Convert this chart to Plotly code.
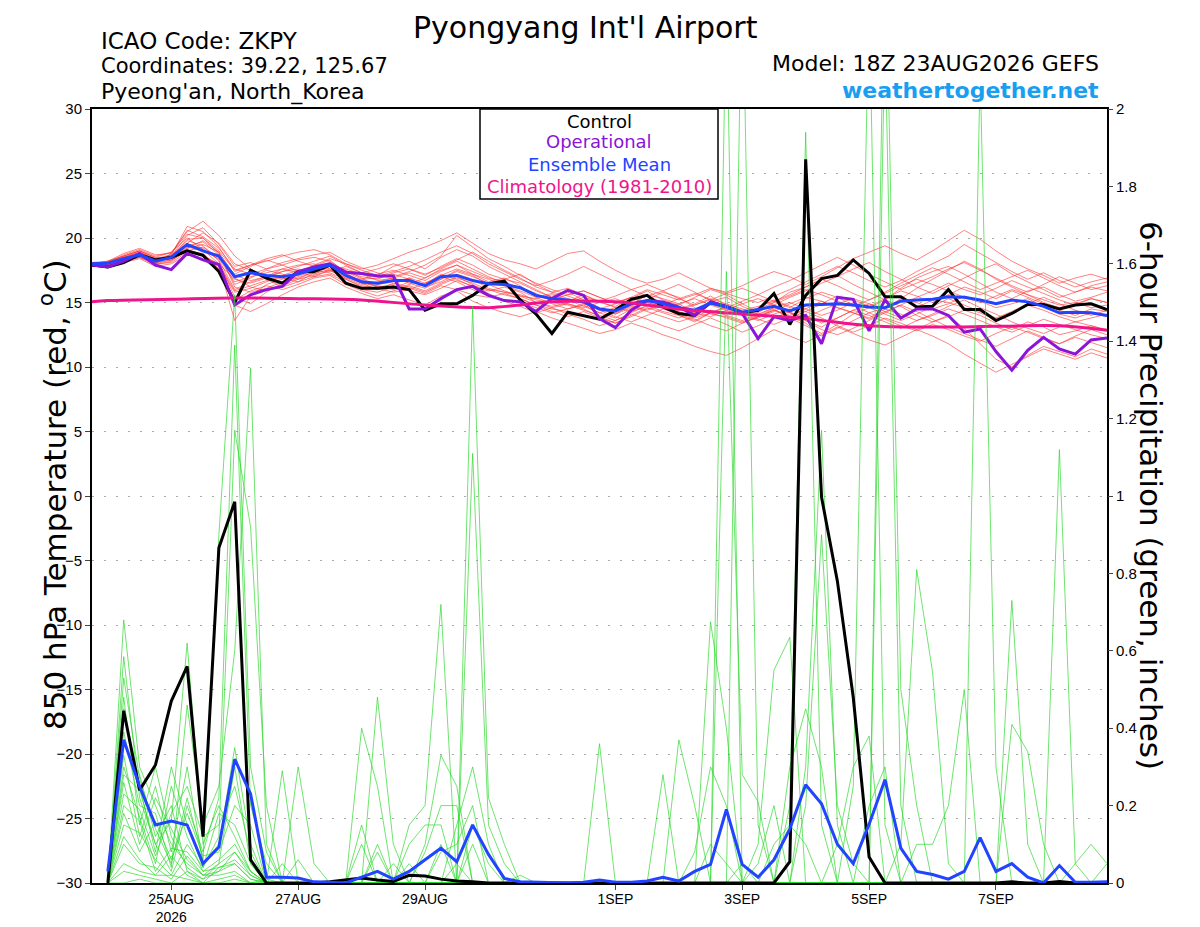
import pandas as pd
import plotly.graph_objects as go

# 6-hourly times: 23AUG 18Z .. 8SEP 18Z (temperature), precip starts at 24AUG 00Z
times = pd.date_range("2026-08-23 18:00", periods=65, freq="6h")
precip_times = times[1:]
clim_times = ["2026-08-23 18:00"] + [d.strftime("%Y-%m-%d") for d in pd.date_range("2026-08-24", "2026-09-08")] + ["2026-09-08 18:00"]

tick_dates = ["2026-08-25", "2026-08-27", "2026-08-29", "2026-09-01", "2026-09-03", "2026-09-05", "2026-09-07"]
tick_labels = ["25AUG<br>2026", "27AUG", "29AUG", "1SEP", "3SEP", "5SEP", "7SEP"]

# 850 hPa temperature, deg C
control_temp = [17.9, 17.75, 18.1, 18.7, 18.3, 18.5, 19.0, 18.65, 17.4, 15.0, 17.5, 16.9, 16.5, 17.4, 17.4, 17.9,
                16.5, 16.1, 16.1, 16.2, 16.0, 14.4, 14.9,
                14.9, 15.55, 16.45, 16.65, 15.2, 14.1, 12.6, 14.25, 14.0, 13.7, 14.4, 15.25, 15.55, 14.65, 14.15, 14.0,
                15.0, 14.7, 14.2, 14.4, 15.7,
                13.3, 15.55, 16.85, 17.1, 18.3, 17.25, 15.45, 15.45, 14.65, 14.7, 16.0, 14.45, 14.45, 13.6, 14.15, 14.85,
                14.85, 14.5, 14.8, 14.9, 14.45]
oper_temp = [17.9, 17.75, 18.2, 18.8, 17.9, 17.55, 18.8, 18.3, 17.95, 14.8, 15.6, 16.0, 16.25, 17.4, 17.75, 18.0,
             17.35, 17.25, 17.05, 17.05, 14.5, 14.5, 15.3,
             16.0, 16.25, 15.55, 15.15, 15.05, 14.3, 15.3, 15.95, 15.55, 13.75, 13.05, 14.4, 15.15, 15.05, 14.65, 14.0,
             15.05, 14.7, 14.15, 12.2, 13.9,
             13.6, 14.0, 11.8, 15.4, 15.25, 12.8, 15.2, 13.8, 14.5, 14.5, 14.0, 12.7, 12.95, 11.2, 9.75, 11.3,
             12.3, 11.4, 11.0, 12.1, 12.25]
mean_temp = [18.0, 18.05, 18.4, 18.7, 18.2, 18.5, 19.5, 19.0, 18.6, 17.0, 17.3, 17.1, 17.0, 17.2, 17.6, 17.9,
             17.1, 16.6, 16.5, 16.7, 16.7, 16.3, 17.0,
             17.1, 16.7, 16.45, 16.4, 16.15, 15.55, 15.3, 15.2, 15.05, 14.5, 14.35, 14.9, 15.15, 14.9, 14.6, 14.4,
             14.95, 14.65, 14.25, 14.45, 14.7,
             14.35, 14.8, 14.85, 14.9, 14.8, 14.65, 14.6, 15.1, 15.2, 15.25, 15.45, 15.4, 15.2, 14.9, 15.2, 15.05,
             14.7, 14.2, 14.25, 14.2, 14.0]
clim_temp = [15.05, 15.15, 15.25, 15.35, 15.3, 15.2, 14.8, 14.6, 15.05, 15.05, 14.5, 14.1, 13.75, 13.2, 13.1, 13.15,
             13.2, 12.85]

member_temps = [
    [18.0, 18.1, 18.5, 18.9, 18.3, 18.6, 20.2, 20.8, 19.5, 17.8, 18.1, 17.6, 17.9, 18.3, 18.5, 18.2, 17.4, 17.0, 16.8, 17.3, 17.6, 17.1, 17.8, 18.4, 17.9, 17.2, 16.8, 16.5, 15.9, 15.4, 15.8, 15.2, 14.6, 14.1, 14.8, 15.6, 15.3, 14.9, 14.2, 15.1, 15.4, 14.7, 14.2, 15.0, 15.8, 16.2, 16.8, 17.1, 16.4, 15.8, 15.2, 16.1, 16.9, 17.4, 17.8, 17.2, 16.5, 15.8, 15.3, 15.9, 16.2, 15.6, 15.1, 15.4, 15.8],
    [17.9, 18.0, 18.3, 18.6, 18.0, 18.8, 20.5, 21.3, 20.2, 18.6, 17.6, 17.0, 16.5, 16.9, 17.4, 18.0, 17.5, 16.9, 16.2, 16.0, 16.4, 16.9, 17.5, 17.9, 17.2, 16.6, 16.9, 16.3, 15.4, 14.9, 14.5, 14.8, 14.2, 13.8, 14.5, 15.2, 15.8, 15.4, 14.6, 14.1, 13.9, 13.5, 13.8, 14.3, 14.9, 15.4, 15.1, 14.6, 14.2, 13.8, 14.5, 15.3, 16.1, 16.8, 17.5, 18.2, 17.6, 16.8, 16.2, 15.6, 15.0, 14.6, 14.9, 15.3, 15.0],
    [18.1, 18.2, 18.6, 19.0, 18.5, 18.4, 19.2, 19.8, 18.9, 16.2, 15.8, 16.1, 16.6, 17.0, 17.5, 17.3, 16.8, 16.2, 16.0, 16.5, 16.2, 15.8, 16.4, 16.9, 16.5, 16.0, 15.8, 15.6, 15.2, 15.0, 14.8, 14.4, 14.0, 13.6, 14.2, 14.8, 14.6, 14.0, 13.5, 14.2, 14.6, 14.0, 13.6, 14.1, 14.5, 14.0, 13.4, 13.8, 14.4, 14.9, 14.3, 13.8, 14.6, 15.2, 15.0, 14.6, 14.2, 13.7, 14.1, 14.8, 14.4, 13.9, 13.5, 13.8, 14.1],
    [17.8, 17.9, 18.2, 18.5, 18.1, 18.6, 19.8, 19.4, 18.2, 15.4, 14.9, 15.8, 16.5, 17.2, 17.9, 18.4, 18.0, 17.5, 17.1, 17.8, 18.2, 17.6, 18.5, 19.1, 18.6, 17.8, 17.2, 16.6, 16.0, 15.4, 15.1, 15.6, 15.0, 14.7, 15.3, 15.9, 15.2, 14.8, 15.4, 16.0, 15.6, 14.9, 14.3, 14.8, 15.4, 15.9, 16.5, 17.0, 17.6, 18.1, 17.4, 16.8, 16.2, 15.7, 16.3, 16.9, 17.5, 18.0, 17.2, 16.6, 16.0, 15.4, 15.8, 16.3, 16.6],
    [18.0, 17.9, 18.3, 18.8, 18.4, 18.3, 19.0, 19.3, 18.5, 17.2, 17.8, 18.3, 17.9, 17.4, 17.0, 17.5, 16.9, 16.4, 16.6, 16.9, 16.5, 16.1, 16.8, 17.4, 17.0, 16.5, 16.8, 17.2, 16.4, 15.8, 15.5, 15.1, 14.5, 14.9, 15.4, 14.8, 14.3, 14.0, 13.6, 14.2, 13.8, 13.4, 13.9, 14.5, 13.8, 13.2, 12.6, 13.3, 14.1, 14.6, 15.2, 14.7, 14.0, 13.5, 13.9, 14.4, 14.0, 13.4, 12.9, 13.5, 13.1, 12.5, 12.8, 13.2, 12.9],
    [17.9, 18.1, 18.7, 19.1, 18.6, 18.9, 20.0, 19.1, 18.0, 16.8, 16.5, 16.9, 17.4, 17.6, 17.2, 17.6, 17.0, 16.5, 16.3, 16.1, 16.6, 16.4, 17.2, 16.8, 16.2, 15.9, 16.2, 15.8, 15.0, 14.7, 15.0, 15.4, 15.1, 14.6, 14.3, 14.7, 15.0, 14.5, 14.9, 15.5, 14.8, 14.4, 14.7, 15.1, 14.6, 15.3, 15.8, 15.4, 14.8, 14.2, 14.6, 15.2, 15.0, 14.5, 14.9, 15.5, 15.1, 14.6, 14.9, 15.3, 14.7, 14.1, 13.8, 14.2, 13.9],
    [18.0, 18.0, 18.4, 18.6, 18.2, 18.7, 19.6, 20.4, 19.6, 18.0, 17.5, 16.8, 16.2, 16.6, 17.3, 17.8, 17.4, 16.8, 16.9, 17.2, 16.8, 16.3, 16.8, 17.5, 17.1, 16.4, 15.9, 15.5, 15.0, 14.6, 14.9, 14.5, 13.9, 13.4, 14.0, 14.6, 14.2, 13.8, 14.3, 14.9, 14.5, 14.1, 14.6, 15.2, 14.7, 14.3, 14.9, 15.5, 15.2, 14.7, 15.3, 15.9, 15.5, 15.0, 15.6, 16.2, 15.8, 15.3, 15.9, 15.4, 14.9, 14.4, 14.0, 14.5, 14.3],
    [18.1, 18.0, 18.2, 18.5, 17.9, 18.2, 19.1, 18.7, 17.9, 13.6, 15.5, 16.4, 16.8, 17.1, 17.8, 18.3, 17.3, 16.6, 16.2, 16.4, 16.9, 16.2, 16.6, 17.2, 16.8, 16.1, 15.8, 15.5, 15.3, 15.6, 15.2, 14.7, 14.2, 14.6, 15.1, 15.5, 15.0, 14.6, 14.2, 13.9, 14.4, 14.9, 15.3, 14.8, 14.2, 13.6, 13.1, 13.8, 14.4, 14.0, 13.5, 13.0, 13.6, 14.1, 14.7, 15.2, 14.6, 14.1, 13.5, 13.0, 12.6, 13.1, 13.5, 13.2, 12.8],
    [17.8, 18.0, 18.5, 18.7, 18.3, 18.4, 19.3, 19.0, 18.4, 16.6, 17.0, 17.3, 17.6, 17.9, 18.0, 17.6, 16.9, 16.8, 17.2, 17.5, 17.1, 16.7, 17.4, 17.9, 17.4, 16.9, 16.6, 16.1, 15.5, 15.2, 15.6, 15.9, 15.4, 15.0, 15.4, 15.0, 14.6, 14.9, 15.3, 14.8, 14.4, 14.0, 14.5, 15.0, 15.5, 16.0, 15.6, 15.1, 14.7, 15.2, 15.7, 16.3, 16.8, 16.4, 15.9, 15.4, 15.0, 15.5, 16.0, 15.6, 15.2, 14.8, 15.0, 14.6, 14.8],
    [18.0, 18.1, 18.4, 18.8, 18.1, 18.5, 19.9, 20.0, 18.8, 16.4, 16.9, 17.5, 17.2, 16.8, 17.4, 17.9, 17.6, 17.2, 16.7, 16.9, 17.3, 16.9, 17.6, 18.2, 17.6, 17.0, 16.5, 16.2, 15.7, 15.1, 14.9, 14.6, 15.0, 15.3, 14.8, 14.4, 14.8, 15.3, 15.7, 15.2, 14.7, 14.3, 13.9, 14.4, 14.0, 14.5, 15.1, 14.6, 14.2, 13.7, 14.3, 14.8, 15.4, 15.9, 16.5, 16.0, 15.6, 16.1, 16.7, 16.2, 15.7, 15.2, 14.8, 15.3, 15.0],
    [17.9, 17.9, 18.3, 18.7, 18.0, 18.1, 18.9, 18.6, 18.0, 15.9, 16.3, 16.7, 16.9, 16.6, 17.0, 17.2, 16.6, 16.0, 15.8, 16.2, 15.9, 15.6, 16.1, 16.7, 16.3, 16.0, 15.6, 15.3, 14.8, 14.5, 14.3, 14.0, 13.7, 14.2, 14.7, 14.3, 13.9, 13.5, 13.9, 14.4, 14.0, 13.6, 14.0, 14.6, 14.2, 13.8, 14.4, 14.9, 15.3, 14.9, 14.5, 14.1, 13.6, 14.0, 14.5, 14.1, 13.6, 13.1, 12.7, 13.2, 13.7, 13.3, 12.9, 12.5, 12.2],
    [18.0, 18.2, 18.8, 19.2, 18.7, 18.8, 20.6, 20.1, 19.2, 17.6, 17.2, 17.6, 18.1, 18.4, 18.7, 18.9, 18.2, 17.7, 17.3, 17.0, 17.4, 17.9, 18.6, 20.2, 19.3, 18.4, 17.8, 17.1, 16.5, 16.0, 15.6, 15.9, 15.4, 14.9, 15.4, 16.0, 15.6, 15.2, 15.6, 16.1, 15.7, 15.3, 15.0, 15.5, 16.0, 16.6, 17.2, 17.8, 17.3, 16.7, 16.2, 16.7, 17.4, 18.0, 18.6, 19.5, 18.8, 18.1, 17.4, 16.8, 17.3, 16.7, 16.2, 16.6, 16.9],
    [17.9, 18.0, 18.4, 18.6, 18.2, 18.5, 19.4, 19.7, 18.7, 16.9, 16.2, 15.9, 16.3, 16.8, 17.1, 17.5, 16.8, 16.3, 16.1, 15.8, 16.0, 16.5, 17.0, 16.6, 16.0, 15.5, 15.2, 15.0, 14.6, 14.2, 14.5, 14.9, 14.4, 13.9, 13.5, 14.0, 14.5, 14.1, 13.7, 13.2, 12.8, 13.4, 13.9, 14.4, 13.9, 13.4, 12.4, 13.0, 13.6, 14.2, 13.7, 13.2, 12.8, 13.3, 12.9, 12.4, 12.0, 12.6, 13.1, 12.7, 12.2, 11.8, 12.3, 11.9, 11.5],
    [18.1, 18.1, 18.5, 18.9, 18.4, 18.7, 20.9, 20.5, 19.3, 17.4, 17.9, 18.4, 18.7, 18.2, 17.8, 17.4, 17.8, 17.3, 17.6, 18.0, 17.6, 17.2, 17.7, 18.3, 18.9, 18.2, 17.5, 16.9, 16.2, 15.8, 16.1, 15.6, 15.1, 15.5, 16.0, 16.4, 15.9, 15.3, 14.8, 15.2, 15.7, 16.1, 15.6, 15.1, 15.6, 16.2, 16.8, 16.3, 15.7, 15.2, 15.8, 16.5, 17.1, 17.7, 17.2, 16.6, 16.0, 16.5, 17.0, 17.5, 16.9, 16.3, 15.8, 16.2, 15.9],
    [17.8, 18.0, 18.3, 18.5, 18.0, 18.3, 19.0, 18.6, 17.8, 15.8, 16.1, 16.6, 17.1, 17.5, 17.2, 17.8, 17.1, 16.5, 16.0, 16.3, 16.1, 15.7, 16.3, 16.0, 15.6, 15.4, 15.7, 15.3, 14.8, 14.3, 13.9, 14.3, 13.8, 13.4, 13.9, 14.5, 14.9, 14.3, 13.8, 14.2, 14.7, 14.2, 13.7, 13.3, 13.8, 14.3, 13.8, 13.2, 12.7, 13.2, 13.8, 13.4, 12.9, 13.5, 14.0, 13.0, 11.8, 10.6, 10.0, 10.9, 11.6, 11.2, 10.8, 11.4, 11.0],
    [18.0, 18.1, 18.6, 19.0, 18.4, 18.5, 19.5, 19.2, 18.3, 16.0, 16.6, 17.0, 17.6, 17.3, 17.7, 18.1, 17.2, 16.7, 16.4, 16.6, 16.9, 16.5, 17.1, 17.6, 17.2, 16.8, 16.3, 15.9, 15.4, 15.7, 15.3, 14.9, 14.5, 14.1, 14.6, 15.0, 14.7, 14.4, 14.8, 15.3, 14.9, 14.5, 14.1, 14.6, 15.0, 14.5, 14.0, 14.4, 15.0, 14.6, 14.1, 13.6, 14.1, 14.7, 15.3, 14.8, 14.3, 13.8, 14.3, 14.9, 15.4, 14.9, 14.4, 14.0, 14.4],
    [18.0, 18.2, 18.6, 19.0, 18.5, 18.9, 20.3, 20.0, 19.0, 17.5, 17.9, 18.2, 18.6, 18.9, 19.1, 18.7, 18.0, 17.6, 17.9, 18.4, 18.9, 19.3, 19.8, 20.4, 19.6, 18.8, 18.3, 18.0, 17.6, 18.2, 18.8, 19.0, 18.2, 17.5, 16.9, 16.5, 16.8, 17.3, 16.7, 16.1, 15.8, 16.3, 16.9, 17.4, 17.0, 16.4, 17.0, 17.7, 18.4, 18.9, 19.4, 18.8, 18.3, 19.0, 19.8, 20.6, 19.9, 19.0, 18.2, 17.6, 17.1, 16.5, 16.9, 17.2, 16.8],
    [17.8, 17.9, 18.1, 18.4, 17.8, 18.0, 18.7, 18.3, 17.5, 14.8, 14.3, 14.9, 15.6, 16.2, 16.6, 16.9, 16.2, 15.7, 15.3, 15.6, 15.2, 14.8, 15.5, 15.9, 15.1, 14.6, 14.2, 13.9, 14.3, 13.8, 13.4, 13.0, 12.6, 12.9, 13.4, 13.0, 12.5, 12.1, 11.6, 11.2, 10.9, 11.5, 12.2, 12.9, 12.4, 11.9, 12.5, 13.1, 12.6, 12.1, 11.7, 12.3, 12.9, 12.4, 11.8, 11.0, 10.3, 9.6, 10.2, 10.8, 11.4, 11.0, 10.6, 11.1, 10.7],
    [18.0, 18.1, 18.5, 18.8, 18.3, 18.4, 19.2, 19.5, 18.9, 17.1, 16.7, 17.0, 17.4, 17.8, 18.2, 18.6, 17.9, 17.3, 17.0, 17.4, 17.8, 18.3, 18.9, 19.4, 18.8, 18.0, 17.4, 16.8, 16.3, 16.7, 17.2, 17.8, 17.2, 16.6, 16.0, 15.5, 15.9, 16.4, 15.8, 15.2, 14.6, 15.1, 15.6, 16.2, 16.7, 17.3, 17.9, 18.5, 17.9, 17.2, 16.6, 16.0, 16.5, 17.0, 17.6, 18.1, 17.5, 16.9, 16.3, 15.8, 16.4, 17.0, 16.5, 16.0, 16.3],
    [17.9, 18.0, 18.4, 18.7, 18.1, 18.3, 19.0, 18.8, 17.6, 15.2, 15.9, 16.3, 16.0, 16.4, 16.9, 17.1, 16.4, 15.9, 15.5, 15.9, 16.3, 15.9, 16.5, 17.0, 16.4, 15.7, 15.1, 14.7, 14.2, 14.6, 14.1, 13.7, 13.2, 13.6, 14.1, 13.7, 13.2, 12.8, 13.3, 13.8, 13.3, 12.7, 13.2, 13.8, 14.3, 13.6, 12.9, 12.5, 13.0, 13.6, 14.2, 14.8, 14.3, 13.7, 13.1, 12.6, 12.1, 11.6, 12.2, 12.8, 12.3, 11.8, 12.4, 12.9, 12.5],
]

# 6-hour precipitation, inches (24AUG 00Z .. 8SEP 18Z)
control_precip = [0, 0.445, 0.24, 0.305, 0.47, 0.56, 0.12, 0.866, 0.985, 0.06, 0, 0, 0, 0, 0.003, 0.008,
                  0.013, 0.008, 0.004, 0.02, 0.018, 0.01, 0.005, 0.003, 0, 0, 0, 0, 0, 0, 0, 0,
                  0, 0, 0, 0, 0, 0, 0, 0, 0, 0, 0, 0.055, 1.87, 0.997, 0.78, 0.48,
                  0.067, 0, 0, 0, 0, 0, 0, 0, 0, 0.003, 0, 0, 0.004, 0, 0, 0]
mean_precip = [0.03, 0.37, 0.25, 0.15, 0.16, 0.15, 0.05, 0.093, 0.32, 0.23, 0.015, 0.015, 0.013, 0.003, 0.002, 0,
               0.015, 0.03, 0.01, 0.03, 0.06, 0.09, 0.055, 0.15, 0.074, 0.012, 0.003, 0.002, 0, 0, 0.002, 0.008,
               0.002, 0.002, 0.005, 0.015, 0.005, 0.03, 0.048, 0.19, 0.048, 0.015, 0.06, 0.14, 0.254, 0.205, 0.10, 0.05,
               0.152, 0.267, 0.09, 0.03, 0.022, 0.01, 0.03, 0.117, 0.03, 0.05, 0.015, 0, 0.045, 0.002, 0.002, 0.003]

member_precips = [
    [0, .68, .30, .20, .10, .05, .02, .05, .30, .05, 0, 0, 0, 0, 0, 0,
     0, 0, 0, .15, .20, .72, 0, 0, 0, 0, 0, 0, 0, 0, 0, 0,
     0, 0, 0, 0, 0, 0, 0, 0, 0, 0, 0, .30, .45, .30, 0, 0,
     0, 0, 0, 0, 0, 0, 0, 0, 0, 0, 0, 0, 0, 0, 0, 0],
    [0, .585, .22, .10, .16, .62, .10, .20, .12, .03, 0, 0, 0, 0, 0, 0,
     0, .08, 0, 0, 0, 0, .05, 0, 0, 0, 0, 0, 0, 0, 0, 0,
     0, 0, 0, 0, 0, 0, 0, 2.3, 0, 0, 0, 0, 0, 0, 0, 0,
     0, 0, .10, .81, .545, .05, 0, 0, 0, 0, 0, 0, 0, 0, 0, 0],
    [0, .53, .27, .14, .05, .22, .06, .90, 1.52, .30, .08, 0, 0, 0, 0, 0,
     0, 0, 0, 0, 0, 0, 0, .15, .05, 0, 0, 0, 0, 0, 0, 0,
     0, 0, 0, 0, 0, 0, 0, 0, 0, .05, .20, 0, 0, 0, 0, 0,
     0, 0, 0, 0, 0, 0, 0, 0, 0, 0, 0, 0, 0, 0, 0, 0],
    [0, .48, .15, .30, .12, .04, .01, .03, .08, .02, 0, 0, 0, 0, 0, 0,
     .40, .25, 0, 0, 0, 0, 0, 0, 0, 0, 0, 0, 0, 0, 0, 0,
     0, 0, 0, 0, 0, 0, 0, 0, 2.4, .15, 0, 0, 0, 0, 0, 0,
     0, 0, 0, 0, 0, 0, 0, 0, 0, 0, 0, 0, 0, .05, .10, .05],
    [0, .45, .25, .08, .30, .15, .04, .12, 1.17, .92, .20, 0, 0, 0, 0, 0,
     0, 0, 0, 0, 0, 0, 0, 0, 0, 0, 0, 0, 0, 0, 0, 0,
     0, 0, 0, .28, 0, 0, 0, 0, 0, 0, 0, 0, 0, 0, 0, 0,
     0, 0, 0, 0, 0, 0, 0, 2.1, .30, 0, 0, 0, 0, 0, 0, 0],
    [0, .39, .20, .18, .04, .46, .15, .25, .60, 1.33, .10, 0, 0, 0, 0, 0,
     0, 0, 0, 0, .10, .33, .25, 0, 0, 0, 0, 0, 0, 0, 0, 0,
     0, 0, 0, 0, 0, 0, 0, 0, 0, 0, 0, 0, 0, 0, 0, .25,
     2.3, .15, 0, 0, 0, 0, 0, 0, 0, 0, 0, 0, 0, 0, 0, 0],
    [0, .36, .28, .12, .20, .03, 0, .04, .05, .01, 0, .29, 0, 0, 0, 0,
     0, 0, 0, 0, 0, 0, 0, 0, 0, 0, 0, 0, 0, 0, 0, .36,
     0, 0, 0, 0, 0, 0, 0, 0, 0, .10, .55, .635, 0, 0, 0, 0,
     0, 0, 0, 0, 0, 0, 0, 0, 0, 0, 0, 0, 0, 0, 0, 0],
    [0, .33, .12, .25, .08, .30, .05, .10, .35, .10, 0, 0, 0, 0, 0, 0,
     0, .48, .10, 0, 0, 0, 0, 0, 0, 0, 0, 0, 0, 0, 0, 0,
     0, 0, 0, 0, 0, 0, 0, 0, 0, 0, 0, 0, .30, 1.17, .15, 0,
     0, 0, 0, 0, 0, 0, 0, 0, 0, 0, 0, 0, 0, 0, 0, 0],
    [0, .30, .17, .05, .25, .12, .03, .06, .10, .03, 0, 0, .30, .05, 0, 0,
     0, 0, 0, 0, 0, 0, 0, 0, 0, 0, 0, 0, 0, 0, 0, 0,
     0, 0, 0, 0, 0, 0, .10, .05, 0, 0, 0, 0, 0, 0, 0, 0,
     0, 0, 0, .10, .10, .20, .50, 0, 0, 0, 0, 0, 0, 0, 0, 0],
    [0, .28, .24, .10, .03, .20, .08, .22, 1.39, .20, .05, 0, 0, 0, 0, 0,
     0, 0, 0, 0, 0, 0, 0, 1.49, .22, .10, 0, 0, 0, 0, 0, 0,
     0, 0, 0, 0, 0, 0, 0, 0, 0, 0, 0, 0, 0, 0, 0, 0,
     0, 0, 0, 0, 0, 0, 0, 0, 0, .73, .10, 0, 0, 0, 0, 0],
    [0, .26, .10, .22, .14, .06, .02, .02, .03, 0, .01, 0, 0, 0, 0, 0,
     .15, 0, 0, 0, 0, .10, 0, .10, 0, 0, 0, 0, 0, 0, 0, 0,
     0, 0, 0, 0, 0, 0, 0, 0, 0, 0, 0, .20, 1.94, .15, 0, 0,
     0, 0, 0, 0, 0, 0, 0, 0, 0, 0, 0, 0, 0, 0, 0, 0],
    [0, .23, .19, .07, .18, .25, .12, .15, .25, .08, 0, .05, 0, 0, 0, 0,
     0, 0, 0, .05, 0, 0, 0, 0, 0, 0, 0, 0, 0, 0, 0, 0,
     0, 0, 0, 0, .37, .20, 0, 0, 0, 0, 0, 0, 0, 0, 0, 0,
     0, 0, 0, 0, 0, 0, 0, 0, 0, 0, 0, 0, 1.12, .05, 0, 0],
    [0, .20, .16, .03, .09, .08, .03, .04, .06, .02, 0, 0, 0, 0, 0, 0,
     .10, 0, 0, 0, 0, 0, .15, .30, .10, 0, 0, 0, 0, 0, 0, 0,
     0, 0, 0, 0, 0, 0, 0, 0, 0, 0, 0, 0, 0, 0, .10, .30,
     .38, 0, 0, 0, 0, 0, 0, 0, 0, 0, 0, 0, 0, 0, 0, 0],
    [0, .18, .08, .16, .06, .18, .07, .08, .20, .15, 0, 0, .06, 0, 0, 0,
     0, 0, 0, 0, 0, 0, 0, 0, 0, 0, .02, 0, 0, 0, 0, 0,
     0, 0, 0, 0, 0, 0, 0, 1.58, .28, .21, 0, 0, 0, 0, 0, 0,
     0, 0, 0, 0, 0, 0, 0, 0, 0, 0, 0, 0, 0, 0, 0, .05],
    [0, .15, .13, .06, .02, .10, .04, .18, .15, .05, 0, 0, 0, 0, 0, 0,
     0, .10, 0, 0, 0, 0, 0, 0, 0, 0, 0, 0, 0, 0, 0, 0,
     0, 0, 0, 0, 0, 0, .675, .40, 0, 0, 0, 0, 0, 0, 0, 0,
     0, 0, 0, 0, 0, 0, 0, 0, 0, .41, .34, .10, 0, 0, 0, 0],
    [0, .12, .06, .02, .07, .02, 0, .01, .02, 0, 0, 0, 0, 0, 0, 0,
     0, 0, .05, 0, 0, .08, .10, .20, 0, 0, 0, 0, 0, 0, 0, 0,
     0, 0, 0, 0, 0, 0, 0, 0, 0, 0, 0, 0, .20, .90, .20, .05,
     0, 0, 0, 0, 0, 0, 0, 0, 0, 0, 0, 0, 0, 0, 0, 0],
    [0, .10, .05, .04, .01, .07, .02, .03, .05, .01, 0, 0, 0, 0, 0, 0,
     0, 0, 0, .10, .15, .15, 0, 0, 0, 0, 0, 0, 0, 0, 0, 0,
     0, 0, 0, 0, 0, 0, 0, 0, .05, 0, 0, 0, 0, 0, 0, 0,
     0, 2.5, .50, .20, 0, 0, 0, 0, 0, 0, 0, 0, 0, 0, 0, 0],
    [0, .05, .03, .02, .02, .01, 0, 0, .01, 0, 0, 0, 0, 0, 0, 0,
     0, 0, 0, 0, 0, 0, 0, 1.11, .15, .05, 0, 0, 0, 0, 0, 0,
     0, 0, 0, 0, 0, 0, 0, 0, 0, 0, 0, 0, 0, 0, 0, 0,
     .20, .30, 0, 0, 0, 0, 0, 0, 0, 0, 0, 0, 0, 0, 0, 0],
    [0, .03, .02, .01, 0, .03, .01, .05, .08, .03, 0, 0, 0, 0, 0, 0,
     0, 0, 0, 0, .08, .20, .20, 0, 0, 0, 0, 0, 0, 0, 0, 0,
     0, 0, 0, 0, 0, 0, 0, 0, 0, 0, .10, .15, .10, 0, 0, 0,
     0, 0, 0, 0, 0, 0, 0, 0, 0, 0, 0, 0, 0, 0, 0, 0],
    [0, 0, .01, 0, 0, 0, 0, 0, 0, 0, 0, 0, 0, 0, 0, 0,
     0, 0, 0, 0, 0, 0, 0, 0, 0, 0, 0, 0, 0, 0, 0, 0,
     0, 0, 0, 0, 0, .08, .30, .20, 0, 0, 0, 0, 0, 0, 0, 0,
     0, 2.2, .20, 0, 0, 0, 0, 0, 0, 0, 0, 0, 0, 0, 0, 0],
]

TICKFONT = "Liberation Sans, Arial, sans-serif"
FONT = "DejaVu Sans, Verdana, sans-serif"
RED = "rgba(255,45,45,0.75)"
GREEN = "rgba(40,215,40,0.85)"
PURPLE = "#8a14d8"
BLUE = "#2244ff"
PINK = "#f0148c"

fig = go.Figure()

for m in member_temps:
    fig.add_trace(go.Scatter(x=times[:len(m)], y=m, mode="lines", line=dict(color=RED, width=0.8),
                             showlegend=False, hoverinfo="skip"))

fig.add_trace(go.Scatter(x=times, y=control_temp, mode="lines", line=dict(color="black", width=3), showlegend=False))
fig.add_trace(go.Scatter(x=times, y=oper_temp, mode="lines", line=dict(color=PURPLE, width=3), showlegend=False))
fig.add_trace(go.Scatter(x=times, y=mean_temp, mode="lines", line=dict(color=BLUE, width=3), showlegend=False))
fig.add_trace(go.Scatter(x=clim_times, y=clim_temp, mode="lines", line=dict(color=PINK, width=3, shape="spline"),
                         showlegend=False))

for m in member_precips:
    fig.add_trace(go.Scatter(x=precip_times[:len(m)], y=m, mode="lines", yaxis="y2",
                             line=dict(color=GREEN, width=0.8), showlegend=False, hoverinfo="skip"))

fig.add_trace(go.Scatter(x=precip_times, y=control_precip, mode="lines", yaxis="y2",
                         line=dict(color="black", width=3), showlegend=False))
fig.add_trace(go.Scatter(x=precip_times, y=mean_precip, mode="lines", yaxis="y2",
                         line=dict(color=BLUE, width=3), showlegend=False))

# page body has an 8px margin, so the figure is 8px smaller and shifted
fig.update_layout(
    width=1192, height=919,
    margin=dict(l=84, r=93, t=101, b=44),
    paper_bgcolor="white", plot_bgcolor="white",
    font=dict(family=TICKFONT, size=14, color="black"),
    xaxis=dict(type="date", range=["2026-08-23 18:00", "2026-09-08 18:00"],
               tickvals=tick_dates, ticktext=tick_labels, ticks="outside", ticklen=5, automargin=False,
               ticklabelstandoff=-3,
               showgrid=False, zeroline=False, showline=True, mirror=True, linecolor="black", linewidth=2,
               tickfont=dict(size=14)),
    yaxis=dict(range=[-30, 30], dtick=5, ticks="outside", ticklen=5, showgrid=True, automargin=False,
               gridcolor="#aaaaaa", griddash="2px,10px", gridwidth=1, zeroline=False,
               showline=True, mirror=True, linecolor="black", linewidth=2, tickfont=dict(size=15)),
    yaxis2=dict(range=[0, 2], dtick=0.2, overlaying="y", side="right", ticks="outside", ticklen=5,
                automargin=False, showgrid=False, zeroline=False, showline=False, tickfont=dict(size=15)),
)


def px(x):
    return (x - 92) / 1015


def py(y):
    return (883 - y) / 774


notes = [
    ("Pyongyang Int'l Airport", 585, 27, "center", 30, "black", False),
    ("ICAO Code: ZKPY", 99, 41, "left", 23, "black", False),
    ("Coordinates: 39.22, 125.67", 99, 66, "left", 21, "black", False),
    ("Pyeong'an, North_Korea", 99, 92, "left", 22, "black", False),
    ("Model: 18Z 23AUG2026 GEFS", 1101, 64, "right", 22, "black", False),
    ("weathertogether.net", 1101, 90, "right", 22, "#1a9ef0", True),
    ("Control", 599, 121, "center", 18, "black", False),
    ("Operational", 599, 142, "center", 18, PURPLE, False),
    ("Ensemble Mean", 599, 164, "center", 18, BLUE, False),
    ("Climatology (1981-2010)", 599, 186, "center", 18, PINK, False),
]
for text, x, y, anchor, size, color, bold in notes:
    fig.add_annotation(x=px(x), y=py(y), xref="paper", yref="paper", text=f"<b>{text}</b>" if bold else text,
                       showarrow=False, xanchor=anchor, yanchor="middle",
                       font=dict(family=FONT, size=size, color=color))

fig.add_shape(type="rect", xref="paper", yref="paper", x0=px(480), x1=px(718), y0=py(199), y1=py(109),
              line=dict(color="black", width=1.5), fillcolor="white", layer="above")

fig.add_annotation(x=px(31), y=py(495), xref="paper", yref="paper", showarrow=False, textangle=-90,
                   text="850 hPa Temperature (red, <sup>o</sup>C)", font=dict(family=FONT, size=31))
fig.add_annotation(x=px(1171), y=py(495), xref="paper", yref="paper", showarrow=False, textangle=90,
                   text="6-hour Precipitation (green, inches)", font=dict(family=FONT, size=31))

fig.write_html("out.html")
